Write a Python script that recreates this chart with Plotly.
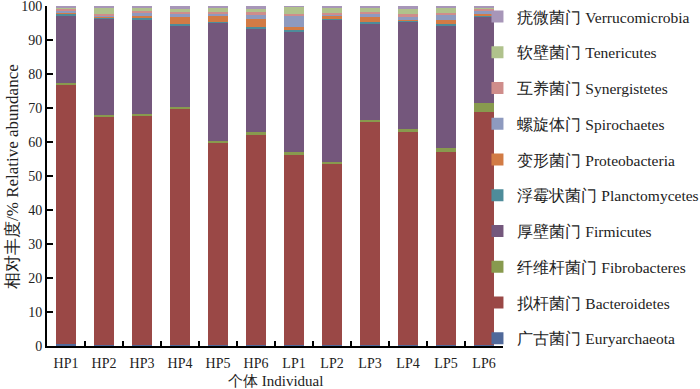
import plotly.graph_objects as go

samples = ["HP1", "HP2", "HP3", "HP4", "HP5", "HP6", "LP1", "LP2", "LP3", "LP4", "LP5", "LP6"]

euryarchaeota   = [0.5, 0.2, 0.2, 0.2, 0.4, 0.2, 0.2, 0.4, 0.4, 0.2, 0.2, 0.2]
bacteroidetes   = [76.3, 67.3, 67.6, 69.6, 59.5, 61.9, 56.0, 53.3, 65.4, 62.6, 56.8, 68.7]
fibrobacteres   = [0.7, 0.5, 0.4, 0.5, 0.5, 0.7, 0.8, 0.5, 0.6, 0.9, 1.3, 2.6]
firmicutes      = [19.8, 28.2, 27.8, 24.1, 34.6, 30.7, 35.6, 41.8, 28.5, 31.7, 36.1, 25.4]
planctomycetes  = [0.3, 0.3, 0.4, 0.4, 0.2, 0.2, 0.2, 0.3, 0.3, 0.2, 0.2, 0.2]
proteobacteria  = [0.6, 0.2, 0.8, 2.0, 1.8, 2.6, 0.9, 0.8, 1.7, 0.3, 1.3, 0.5]
spirochaetes    = [0.5, 0.6, 1.0, 1.1, 0.9, 1.3, 3.5, 0.4, 0.8, 1.0, 1.6, 1.0]
synergistetes   = [0.3, 0.3, 0.2, 0.3, 0.4, 0.5, 0.4, 0.3, 0.5, 0.7, 0.4, 0.4]
tenericutes     = [0.6, 1.9, 1.3, 1.0, 1.0, 1.1, 2.2, 1.7, 1.2, 1.6, 1.6, 0.7]
verrucomicrobia = [0.4, 0.5, 0.3, 0.8, 0.7, 0.8, 0.2, 0.5, 0.6, 0.8, 0.5, 0.3]

series_names = [
    "广古菌门 Euryarchaeota",
    "拟杆菌门 Bacteroidetes",
    "纤维杆菌门 Fibrobacteres",
    "厚壁菌门 Firmicutes",
    "浮霉状菌门 Planctomycetes",
    "变形菌门 Proteobacteria",
    "螺旋体门 Spirochaetes",
    "互养菌门 Synergistetes",
    "软壁菌门 Tenericutes",
    "疣微菌门 Verrucomicrobia",
]
series_values = [euryarchaeota, bacteroidetes, fibrobacteres, firmicutes, planctomycetes,
                 proteobacteria, spirochaetes, synergistetes, tenericutes, verrucomicrobia]
colors = ["#50699A", "#9A4846", "#889A4E", "#74577C", "#4E8C9A",
          "#D27B45", "#8E9ABF", "#CF8D8B", "#B0C28C", "#A796B8"]

x_title = "个体 Individual"
y_title = "相对丰度/% Relative abundance"

FONT = "Liberation Serif"

fig = go.Figure()
n = len(series_names)
for i, (name, vals, col) in enumerate(zip(series_names, series_values, colors)):
    fig.add_trace(go.Bar(
        x=samples, y=vals, name=name, legendgroup=f"g{i}", legendrank=n - i,
        marker=dict(color=col, line=dict(width=0)),
    ))

fig.add_annotation(
    text=x_title, xref="paper", yref="paper", x=0.5, y=-0.102,
    xanchor="center", yanchor="middle", showarrow=False,
    font=dict(family=FONT, size=15, color="#222"),
)
fig.add_annotation(
    text=y_title, xref="paper", yref="paper", x=-0.0768, y=0.5,
    xanchor="center", yanchor="middle", showarrow=False, textangle=-90,
    font=dict(family=FONT, size=17, color="#222"),
)

fig.update_layout(
    width=700, height=389,
    barmode="stack", bargap=0.45,
    plot_bgcolor="white", paper_bgcolor="white",
    margin=dict(l=47, r=197, t=6, b=43, autoexpand=False),
    font=dict(family=FONT, size=14, color="#222"),
    legend=dict(
        x=0.944, xanchor="left", yref="container", y=1.0, yanchor="top",
        traceorder="grouped", tracegroupgap=12.6, maxheight=389,
        font=dict(family=FONT, size=15.5, color="#222"),
        bgcolor="rgba(0,0,0,0)", itemwidth=30,
    ),
    xaxis=dict(
        showline=True, linecolor="black", linewidth=2,
        ticks="inside", tickson="boundaries", ticklen=5, tickwidth=1.5, tickcolor="black",
        tickfont=dict(family=FONT, size=14), ticklabelstandoff=3,
        automargin=False,
    ),
    yaxis=dict(
        range=[0, 100], dtick=10, showgrid=False, zeroline=False,
        showline=True, linecolor="black", linewidth=2,
        ticks="inside", ticklen=6, tickwidth=1.5, tickcolor="black",
        tickfont=dict(family=FONT, size=14), ticklabeloverflow="allow",
        automargin=False,
    ),
)

fig.write_html("out.html", config={"displayModeBar": False},
               post_script="document.body.style.margin='0';")
